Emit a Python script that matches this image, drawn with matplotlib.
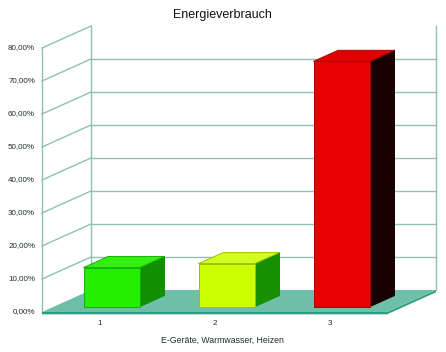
import matplotlib
matplotlib.use("Agg")
import matplotlib.pyplot as plt
from matplotlib.patches import Polygon
import numpy as np

plt.rcParams['font.family'] = ['Liberation Sans', 'DejaVu Sans']

# ---- data ----
categories = ["1", "2", "3"]
values = [11.8, 13.0, 74.3]          # percent
yticks = [0, 10, 20, 30, 40, 50, 60, 70, 80]
ytick_labels = ["0,00%", "10,00%", "20,00%", "30,00%", "40,00%",
                "50,00%", "60,00%", "70,00%", "80,00%"]
title = "Energieverbrauch"
xlabel = "E-Geräte, Warmwasser, Heizen"

front_colors = ["#22ee00", "#ccff00", "#e60000"]
top_colors = ["#33f011", "#d0ff20", "#e00000"]
side_colors = ["#128f00", "#168f00", "#180000"]
edge_colors = ["#18b000", "#99c000", "#b00000"]

# ---- geometry (oblique projection in data units) ----
dx, dy = 0.426, 6.67      # depth offset (category units, percent)
bar_w = 0.49
ymax = 80
xlo, xhi = 0.5, 3.5

fig = plt.figure(figsize=(4.46, 3.52), dpi=100)
ax = fig.add_axes([0, 0, 1, 1])
ax.set_xlim(0.1348, 4.013)
ax.set_ylim(-12.12, 94.55)
ax.axis('off')

grid_c = "#8fc0b2"

# back wall
ax.add_patch(Polygon([(xlo + dx, dy), (xhi + dx, dy), (xhi + dx, ymax + dy), (xlo + dx, ymax + dy)],
                     closed=True, facecolor="white", edgecolor="none", zorder=1))
ax.plot([xlo + dx, xlo + dx], [dy, ymax + dy], color=grid_c, lw=1, zorder=2)
ax.plot([xhi + dx, xhi + dx], [dy, ymax + dy], color=grid_c, lw=1, zorder=2)
# left wall front edge
ax.plot([xlo, xlo], [0, ymax], color=grid_c, lw=1, zorder=2)
for t in yticks[1:]:
    ax.plot([xlo, xlo + dx], [t, t + dy], color=grid_c, lw=1, zorder=2)
    if t < ymax:
        ax.plot([xlo + dx, xhi + dx], [t + dy, t + dy], color=grid_c, lw=1, zorder=2)

# floor (with a little thickness)
th = 0.7
ax.add_patch(Polygon([(xlo, -th), (xhi, -th), (xhi + dx, dy - th), (xhi + dx, dy),
                      (xhi, 0), (xlo, 0)],
                     closed=True, facecolor="#2f9c84", edgecolor="none", zorder=3))
ax.add_patch(Polygon([(xlo, 0), (xhi, 0), (xhi + dx, dy), (xlo + dx, dy)],
                     closed=True, facecolor="#6ebfa7", edgecolor="none", zorder=3))

# bars
for i, (c, v) in enumerate(zip(categories, values)):
    xc = i + 1
    x0 = xc - bar_w / 2 + 0.25 * dx
    x1 = xc + bar_w / 2 + 0.25 * dx
    y0 = 0.25 * dy
    y1 = v + 0.25 * dy
    ddx, ddy = 0.5 * dx, 0.5 * dy
    ax.add_patch(Polygon([(x1, y0), (x1 + ddx, y0 + ddy), (x1 + ddx, y1 + ddy), (x1, y1)],
                         closed=True, facecolor=side_colors[i], edgecolor=side_colors[i],
                         lw=0.8, joinstyle='round', zorder=4))
    ax.add_patch(Polygon([(x0, y1), (x1, y1), (x1 + ddx, y1 + ddy), (x0 + ddx, y1 + ddy)],
                         closed=True, facecolor=top_colors[i], edgecolor=edge_colors[i],
                         lw=0.7, joinstyle='round', zorder=4))
    ax.add_patch(Polygon([(x0, y0), (x1, y0), (x1, y1), (x0, y1)],
                         closed=True, facecolor=front_colors[i], edgecolor=edge_colors[i],
                         lw=0.7, joinstyle='round', zorder=5))

# tick labels
for t, lab in zip(yticks, ytick_labels):
    ax.text(xlo - 0.06, t, lab, ha='right', va='center', fontsize=5.8, color="#1e2e28", zorder=6)
for i, c in enumerate(categories):
    ax.text(i + 1, -3.4, c, ha='center', va='center', fontsize=5.8, color="#1e2e28", zorder=6)

ax.text(2.065, -8.6, xlabel, ha='center', va='center', fontsize=6.3, color="#1e2e28", zorder=6)
ax.text(2.065, 90.0, title, ha='center', va='center', fontsize=9.0, color="#111111", zorder=6)

fig.savefig("out.png", dpi=100)
